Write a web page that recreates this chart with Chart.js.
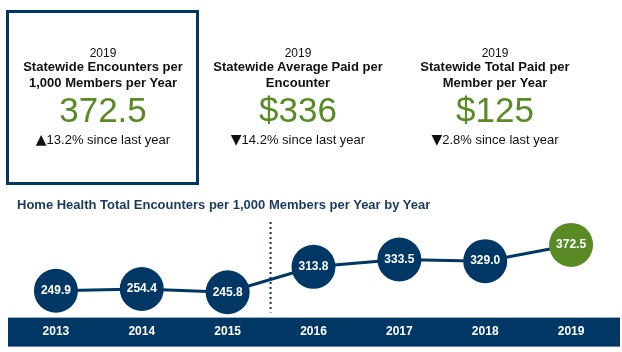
<!DOCTYPE html>
<html>
<head>
<meta charset="utf-8">
<script src="https://cdn.jsdelivr.net/npm/chart.js@4.4.1/dist/chart.umd.min.js"></script>
<style>
  html, body { margin: 0; padding: 0; background: #fff; }
  body { width: 622px; height: 352px; position: relative; overflow: hidden; font-family: "Liberation Sans", Arial, sans-serif; color: #111; }
  #chart { position: absolute; left: 0; top: 0; }
  .box { position: absolute; left: 6px; top: 10px; width: 187px; height: 169px; border: 3px solid #003764; }
  .card { position: absolute; width: 200px; text-align: center; top: 0; }
  .card div { position: absolute; left: 0; width: 200px; white-space: nowrap; }
  .yr { top: 45px; font-size: 12px; line-height: 16px; }
  .ttl { top: 59px; font-size: 13px; font-weight: bold; line-height: 16px; }
  .big { top: 89px; font-size: 35px; line-height: 42px; color: #5a8a24; }
  .chg { top: 132px; font-size: 13px; line-height: 16px; }
  .tri { font-family: "DejaVu Sans", sans-serif; font-size: 14px; line-height: 14px; }
  .ctitle { position: absolute; left: 17px; top: 197px; font-size: 13px; font-weight: bold; color: #1c3a5e; line-height: 16px; white-space: nowrap; }
</style>
</head>
<body>
<canvas id="chart" width="622" height="352"></canvas>
<div class="box"></div>
<div class="card" style="left:3px">
  <div class="yr">2019</div>
  <div class="ttl">Statewide Encounters per<br>1,000 Members per Year</div>
  <div class="big">372.5</div>
  <div class="chg"><span class="tri">▲</span>13.2% since last year</div>
</div>
<div class="card" style="left:198px">
  <div class="yr">2019</div>
  <div class="ttl">Statewide Average Paid per<br>Encounter</div>
  <div class="big">$336</div>
  <div class="chg"><span class="tri">▼</span>14.2% since last year</div>
</div>
<div class="card" style="left:395px">
  <div class="yr">2019</div>
  <div class="ttl">Statewide Total Paid per<br>Member per Year</div>
  <div class="big">$125</div>
  <div class="chg"><span class="tri">▼</span>2.8% since last year</div>
</div>
<div class="ctitle">Home Health Total Encounters per 1,000 Members per Year by Year</div>
<script>
const years = ['2013', '2014', '2015', '2016', '2017', '2018', '2019'];
const encounters = [249.9, 254.4, 245.8, 313.8, 333.5, 329.0, 372.5];

const NAVY = '#003764';
const GREEN = '#5a8a24';

const bandPlugin = {
  id: 'band',
  beforeDraw(chart) {
    const { ctx, chartArea } = chart;
    ctx.save();
    ctx.fillStyle = NAVY;
    ctx.fillRect(8, chartArea.bottom, 612, 29);
    // dotted divider between 2015 and 2016
    const x = chart.scales.x;
    const mx = (x.getPixelForValue(2) + x.getPixelForValue(3)) / 2;
    ctx.strokeStyle = NAVY;
    ctx.lineWidth = 2;
    ctx.setLineDash([2, 3]);
    ctx.beginPath();
    ctx.moveTo(mx, 222);
    ctx.lineTo(mx, chartArea.bottom - 5);
    ctx.stroke();
    ctx.restore();
  }
};

const valueLabels = {
  id: 'valueLabels',
  afterDatasetsDraw(chart) {
    const { ctx } = chart;
    const meta = chart.getDatasetMeta(0);
    ctx.save();
    ctx.fillStyle = '#fff';
    ctx.font = 'bold 12px "Liberation Sans", Arial, sans-serif';
    ctx.textAlign = 'center';
    ctx.textBaseline = 'middle';
    meta.data.forEach((pt, i) => {
      ctx.fillText(encounters[i].toFixed(1), pt.x, pt.y);
    });
    ctx.restore();
  }
};

new Chart(document.getElementById('chart'), {
  type: 'line',
  data: {
    labels: years,
    datasets: [{
      data: encounters,
      borderColor: NAVY,
      borderWidth: 3,
      tension: 0,
      clip: false,
      pointRadius: 22,
      pointHoverRadius: 22,
      pointBorderWidth: 0,
      pointBackgroundColor: encounters.map((v, i) => i === encounters.length - 1 ? GREEN : NAVY)
    }]
  },
  options: {
    responsive: false,
    animation: false,
    events: [],
    layout: { autoPadding: false, padding: { top: 220, bottom: 6, left: 13, right: 8 } },
    plugins: { legend: { display: false }, tooltip: { enabled: false }, title: { display: false } },
    scales: {
      x: {
        offset: true,
        grid: { display: false, drawTicks: false },
        border: { display: false },
        ticks: { color: '#fff', padding: 7, font: { family: '"Liberation Sans", Arial, sans-serif', size: 12, weight: 'bold' } }
      },
      y: { display: false, min: 177.9, max: 439.2 }
    }
  },
  plugins: [bandPlugin, valueLabels]
});
</script>
</body>
</html>
